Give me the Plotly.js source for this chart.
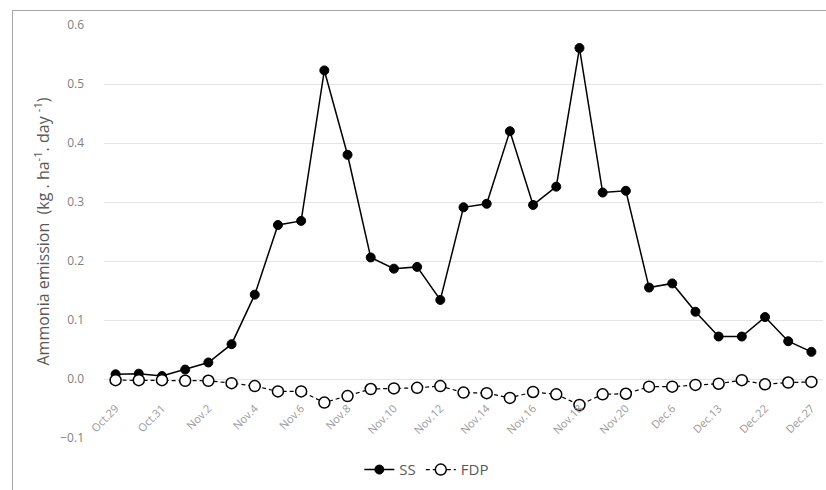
<!DOCTYPE html>
<html>
<head>
<meta charset="utf-8">
<script src="https://cdn.plot.ly/plotly-3.0.1.min.js"></script>
<style>
  html, body { margin: 0; padding: 0; background: #fff; overflow: hidden; }
  #wrap { position: relative; width: 826px; height: 490px; }
  #frame { position: absolute; left: 12px; top: 10px; width: 840px; height: 520px; border: 1.5px solid #a6a6a6; box-sizing: border-box; pointer-events: none; }
  #chart { position: absolute; left: 0; top: 0; width: 826px; height: 490px; }
</style>
</head>
<body>
<div id="wrap">
  <div id="chart"></div>
  <div id="frame"></div>
</div>
<script>
// Tick labels (every other sampling date)
const tickLabels = ["Oct.29","Oct.31","Nov.2","Nov.4","Nov.6","Nov.8","Nov.10","Nov.12",
                    "Nov.14","Nov.16","Nov.18","Nov.20","Dec.6","Dec.13","Dec.22","Dec.27"];

// Series values (kg . ha-1 . day-1)
const ssValues = [0.008, 0.009, 0.005, 0.016, 0.028, 0.059, 0.143, 0.261, 0.268, 0.523,
                  0.380, 0.206, 0.187, 0.190, 0.134, 0.291, 0.297, 0.420, 0.295, 0.326,
                  0.561, 0.316, 0.319, 0.155, 0.162, 0.114, 0.072, 0.072, 0.105, 0.064, 0.046];
const fdpValues = [-0.002, -0.002, -0.002, -0.003, -0.003, -0.007, -0.012, -0.021, -0.021, -0.040,
                   -0.029, -0.017, -0.016, -0.015, -0.012, -0.023, -0.024, -0.032, -0.022, -0.026,
                   -0.044, -0.026, -0.025, -0.013, -0.013, -0.010, -0.008, -0.002, -0.009, -0.006, -0.005];

const xIdx = ssValues.map((_, i) => i);
const tickIdx = tickLabels.map((_, i) => i * 2);

const yMin = -0.1, yMax = 0.6;

const traces = [
  {
    x: xIdx, y: ssValues, name: "SS", type: "scatter", mode: "lines+markers",
    line: { color: "#000000", width: 1.5 },
    marker: { symbol: "circle", size: 9, color: "#000000", line: { color: "#000000", width: 1 } }
  },
  {
    x: xIdx, y: fdpValues, name: "FDP", type: "scatter", mode: "lines+markers",
    line: { color: "#000000", width: 1.2, dash: "4px,3px" },
    marker: { symbol: "circle", size: 11, color: "#ffffff", line: { color: "#000000", width: 1.5 } }
  }
];

const layout = {
  width: 826, height: 490,
  margin: { l: 104, r: 3, t: 25, b: 52 },
  paper_bgcolor: "#ffffff", plot_bgcolor: "#ffffff",
  font: { family: "Open Sans, Noto Sans, sans-serif", color: "#595959" },
  showlegend: true,
  legend: {
    orientation: "h", x: 0.449, xanchor: "center", y: -0.077, yanchor: "middle",
    font: { size: 15, color: "#595959" }, bgcolor: "rgba(0,0,0,0)",
    itemwidth: 30, tracegroupgap: 0
  },
  xaxis: {
    range: [-0.5, ssValues.length - 0.5],
    tickmode: "array", tickvals: tickIdx, ticktext: tickLabels,
    tickangle: -45, tickfont: { size: 11, color: "#999999" },
    ticklabelstandoff: 20, ticklabelshift: 0,
    showgrid: false, zeroline: false, showline: false, ticks: "",
    anchor: "free", position: (0 - yMin) / (yMax - yMin),
    fixedrange: true
  },
  yaxis: {
    range: [yMin, yMax], dtick: 0.1, tickformat: ".1f",
    tickfont: { size: 12, color: "#7f7f7f" },
    showgrid: true, gridcolor: "#e4e4e4", gridwidth: 1,
    zeroline: false, showline: false, ticks: "",
    ticklabelstandoff: 19,
    title: { text: "Ammonia emission  (kg . ha<sup>-1</sup>. day <sup>-1</sup>)",
             font: { size: 16, color: "#595959" }, standoff: 6 },
    fixedrange: true
  }
};

Plotly.newPlot("chart", traces, layout, { displayModeBar: false, staticPlot: true });
</script>
</body>
</html>
